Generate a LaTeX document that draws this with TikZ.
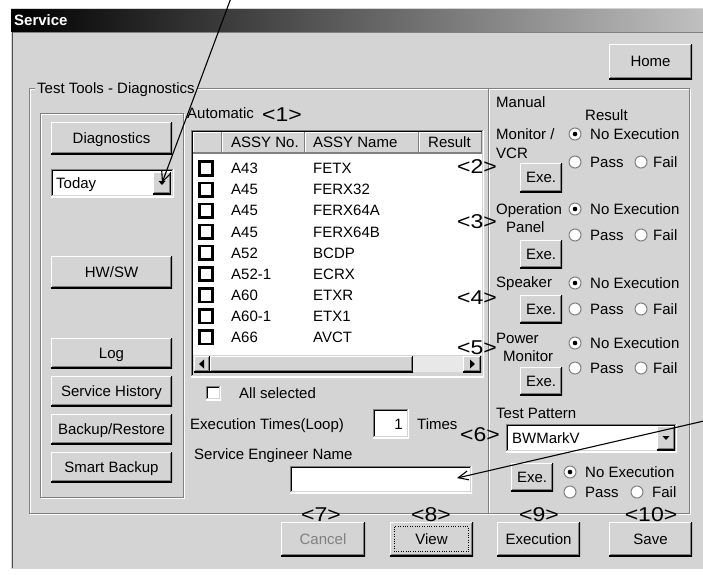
\documentclass[tikz,border=0pt]{standalone}
\usepackage{fontspec}
\usetikzlibrary{arrows.meta}
\newfontfamily\uiface{Liberation Sans}
\newfontfamily\numface[FakeStretch=1.15]{Liberation Sans}
\definecolor{bg}{RGB}{212,212,212}
\definecolor{dkg}{RGB}{128,128,128}
\definecolor{dith}{RGB}{232,232,232}
\definecolor{tbend}{RGB}{192,192,192}
\begin{document}
\begin{tikzpicture}[x=1pt,y=-1pt,
  ui/.style={font=\uiface\fontsize{15}{17}\selectfont, text height=10.4pt, text depth=0pt, inner sep=0pt},
  txt/.style={ui, anchor=west},
  tag/.style={font=\numface\fontsize{20}{22}\selectfont, text height=14pt, text depth=0pt, inner sep=0pt},
  raised/.style={path picture={
    \draw[white,line width=2pt] (path picture bounding box.south west) -- (path picture bounding box.north west) -- (path picture bounding box.north east);
    \draw[black,line width=2pt] (path picture bounding box.north east) -- (path picture bounding box.south east) -- (path picture bounding box.south west);
    \draw[dkg,line width=1pt] ([shift={(1pt,1.5pt)}]path picture bounding box.south west) -- ([shift={(-1.5pt,1.5pt)}]path picture bounding box.south east) -- ([shift={(-1.5pt,-1pt)}]path picture bounding box.north east);}},
  uibtn/.style 2 args={ui, fill=bg, minimum width=#1pt, minimum height=#2pt, raised},
  sunken/.style={fill=white, path picture={
    \draw[dkg,line width=2pt] (path picture bounding box.south west) -- (path picture bounding box.north west) -- (path picture bounding box.north east);
    \draw[black,line width=1pt] ([shift={(1.5pt,1pt)}]path picture bounding box.south west) -- ([shift={(1.5pt,-1.5pt)}]path picture bounding box.north west) -- ([shift={(-1pt,-1.5pt)}]path picture bounding box.north east);
    \draw[white,line width=2pt] (path picture bounding box.north east) -- (path picture bounding box.south east) -- (path picture bounding box.south west);
    \draw[bg,line width=1pt] ([shift={(-1.5pt,-1pt)}]path picture bounding box.north east) -- ([shift={(-1.5pt,1.5pt)}]path picture bounding box.south east) -- ([shift={(1pt,1.5pt)}]path picture bounding box.south west);}},
  field/.style 2 args={sunken, inner sep=0pt, minimum width=#1pt, minimum height=#2pt},
  hdr/.style={fill=bg, inner sep=0pt, minimum height=21pt, path picture={
    \draw[white,line width=2pt] (path picture bounding box.south west) -- (path picture bounding box.north west) -- (path picture bounding box.north east);
    \draw[dkg,line width=2pt] (path picture bounding box.north east) -- (path picture bounding box.south east) -- (path picture bounding box.south west);}},
  chk/.style={draw=black, line width=2.6pt, fill=white, minimum size=13.5pt, inner sep=0pt},
  radio/.style={circle, draw=dkg, line width=1pt, fill=white, minimum size=12pt, inner sep=0pt},
  radioon/.style={radio, path picture={\fill[black] (path picture bounding box.center) circle[radius=2.3pt];}},
  arr/.style={line width=1.1pt, -{Straight Barb[length=10pt,width=9pt]}}
]
% background and window
\fill[white] (0,0) rectangle (703,574);
\useasboundingbox (0,0) rectangle (703,574);
\fill[bg] (10,8) rectangle (703,570);
\draw[white] (10.5,8) -- (10.5,570);
\draw[black!70] (12.5,31) -- (12.5,568);
\draw[white] (10,569.5) -- (703,569.5);
\shade[left color=black, right color=tbend] (11,9) rectangle (703,31);
\draw[dkg] (13,32) -- (703,32);
\node[anchor=west, text=white, font=\uiface\bfseries\fontsize{15}{17}\selectfont, inner sep=0pt] (title) at (14,20) {Service};

% group frames (etched)
\draw[white] (30,89) rectangle (690,514);
\draw[dkg] (29,88) rectangle (689,513);
\draw[white] (41,114) rectangle (184,498);
\draw[dkg] (40,113) rectangle (183,497);
\draw[white] (489,89) -- (489,513);
\draw[dkg] (488,88) -- (488,513);
\node[txt, fill=bg, inner xsep=2pt] (grp) at (35,88) {Test Tools - Diagnostics};

% Home
\node[uibtn={83}{35}] (home) at (650.5,61.5) {Home};

% left buttons
\node[uibtn={121}{32}] (diag) at (111.5,138) {Diagnostics};
\node[field={123}{28}] (today) at (112.5,183) {};
\node[txt] (todaytxt) at (56,183) {Today};
\node[uibtn={18}{22}] (todaydd) at (162,183) {};
\fill (158.5,181) -- (165.5,181) -- (162,185) -- cycle;
\node[uibtn={121}{32}] (hwsw) at (111.5,272) {HW/SW};
\node[uibtn={121}{30}] (log) at (111.5,353) {Log};
\node[uibtn={121}{30}] (hist) at (111.5,391) {Service History};
\node[uibtn={121}{30}] (backup) at (111.5,429) {Backup/Restore};
\node[uibtn={121}{30}] (smart) at (111.5,467) {Smart Backup};

% Automatic
\node[txt] (auto) at (187,113) {Automatic};
\node[tag] (t1) at (282,114) {<1>};

% table
\node[field={293}{247}] (tbl) at (337.5,253.5) {};
\node[hdr, minimum width=29pt] (h0) at (207.5,142.5) {};
\node[hdr, minimum width=83pt] (h1) at (263.5,142.5) {};
\node[hdr, minimum width=114pt] (h2) at (362,142.5) {};
\node[hdr, minimum width=63pt] (h3) at (450.5,142.5) {};
\node[txt] (hno) at (231,142.5) {ASSY No.};
\node[txt] (hnm) at (313,142.5) {ASSY Name};
\node[txt] (hres) at (428,142.5) {Result};
\foreach \no/\nm [count=\i from 0] in {A43/FETX, A45/FERX32, A45/FERX64A, A45/FERX64B, A52/BCDP, A52-1/ECRX, A60/ETXR, A60-1/ETX1, A66/AVCT}{
  \pgfmathsetmacro\yy{168.5+21.1*\i}
  \node[chk] (cb\i) at (206,\yy) {};
  \node[txt] (no\i) at (231,\yy) {\no};
  \node[txt] (nm\i) at (313,\yy) {\nm};
}
% scroll bar
\fill[bg] (193,355) rectangle (482,375);
\node[uibtn={16}{16}] (sl) at (202,364) {};
\fill (199,364) -- (204,359.5) -- (204,368.5) -- cycle;
\node[uibtn={203}{16}] (thumb) at (311.5,364) {};
\fill[dith] (413,356) rectangle (463,372);
\node[uibtn={18}{16}] (sr) at (472,364) {};
\fill (475,364) -- (470,359.5) -- (470,368.5) -- cycle;

% below table
\node[field={15}{14}] (allchk) at (213.5,393) {};
\node[txt] (alltxt) at (239,393) {All selected};
\node[txt] (exlbl) at (190,424) {Execution Times(Loop)};
\node[field={36}{29}] (exbox) at (391,423.5) {};
\node[ui, anchor=east] (exval) at (403,424) {1};
\node[txt] (times) at (417,424) {Times};
\node[tag] (t6) at (480,434) {<6>};
\node[txt] (selbl) at (194,454) {Service Engineer Name};
\node[field={182}{27}] (sebox) at (381,479.5) {};

% Manual panel
\node[txt] (manual) at (496,102) {Manual};
\node[txt] (result) at (585,115) {Result};

\node[txt] (mon1) at (496,134) {Monitor /};
\node[txt] (mon2) at (496,153) {VCR};
\node[radioon] (r1n) at (575,134) {};
\node[txt] (r1nt) at (590,134) {No Execution};
\node[radio] (r1p) at (575,162) {};
\node[txt] (r1pt) at (590,162) {Pass};
\node[radio] (r1f) at (641,162) {};
\node[txt] (r1ft) at (653,162) {Fail};
\node[uibtn={42}{29}] (exe1) at (541,177.5) {Exe.};
\node[tag] (t2) at (477,166) {<2>};

\node[txt] (op1) at (496,209) {Operation};
\node[txt] (op2) at (506,227) {Panel};
\node[radioon] (r2n) at (575,209) {};
\node[txt] (r2nt) at (590,209) {No Execution};
\node[radio] (r2p) at (575,235) {};
\node[txt] (r2pt) at (590,235) {Pass};
\node[radio] (r2f) at (641,235) {};
\node[txt] (r2ft) at (653,235) {Fail};
\node[uibtn={42}{28}] (exe2) at (541,254) {Exe.};
\node[tag] (t3) at (477,221) {<3>};

\node[txt] (spk) at (496,282) {Speaker};
\node[radioon] (r3n) at (575,283) {};
\node[txt] (r3nt) at (590,283) {No Execution};
\node[radio] (r3p) at (575,309) {};
\node[txt] (r3pt) at (590,309) {Pass};
\node[radio] (r3f) at (641,309) {};
\node[txt] (r3ft) at (653,309) {Fail};
\node[uibtn={42}{28}] (exe3) at (541,309) {Exe.};
\node[tag] (t4) at (477,297) {<4>};

\node[txt] (pw1) at (496,338) {Power};
\node[txt] (pw2) at (503,356) {Monitor};
\node[radioon] (r4n) at (575,343) {};
\node[txt] (r4nt) at (590,343) {No Execution};
\node[radio] (r4p) at (575,368) {};
\node[txt] (r4pt) at (590,368) {Pass};
\node[radio] (r4f) at (641,368) {};
\node[txt] (r4ft) at (653,368) {Fail};
\node[uibtn={42}{28}] (exe4) at (541,381) {Exe.};
\node[tag] (t5) at (477,347) {<5>};

\node[txt] (tp) at (496,413) {Test Pattern};
\node[field={171}{28}] (tpbox) at (591.5,438) {};
\node[txt] (tptxt) at (512,438) {BWMarkV};
\node[uibtn={18}{24}] (tpdd) at (666,438) {};
\fill (662.5,436) -- (669.5,436) -- (666,440) -- cycle;
\node[uibtn={42}{28}] (exe5) at (532,477) {Exe.};
\node[radioon] (r5n) at (570,472) {};
\node[txt] (r5nt) at (585,472) {No Execution};
\node[radio] (r5p) at (570,492) {};
\node[txt] (r5pt) at (585,492) {Pass};
\node[radio] (r5f) at (637,492) {};
\node[txt] (r5ft) at (652,492) {Fail};

% bottom buttons
\node[uibtn={84}{34}, text=dkg] (cancel) at (323,539) {Cancel};
\node[uibtn={83}{34}] (view) at (431.5,539) {View};
\draw[dotted] (394.5,526.5) rectangle (468.5,551.5);
\node[uibtn={83}{34}] (exec) at (538.5,539) {Execution};
\node[uibtn={83}{34}] (save) at (650.5,539) {Save};
\node[tag] (t7) at (321,514) {<7>};
\node[tag] (t8) at (431,514) {<8>};
\node[tag] (t9) at (539,514) {<9>};
\node[tag] (t10) at (651,514) {<10>};

% callout arrows
\coordinate (a1s) at (231,-2);
\draw[arr] (a1s) -- (todaydd.center);
\coordinate (a2s) at (706,420.5);
\coordinate (a2e) at (457,478);
\draw[arr] (a2s) -- (a2e);
\end{tikzpicture}
\end{document}
